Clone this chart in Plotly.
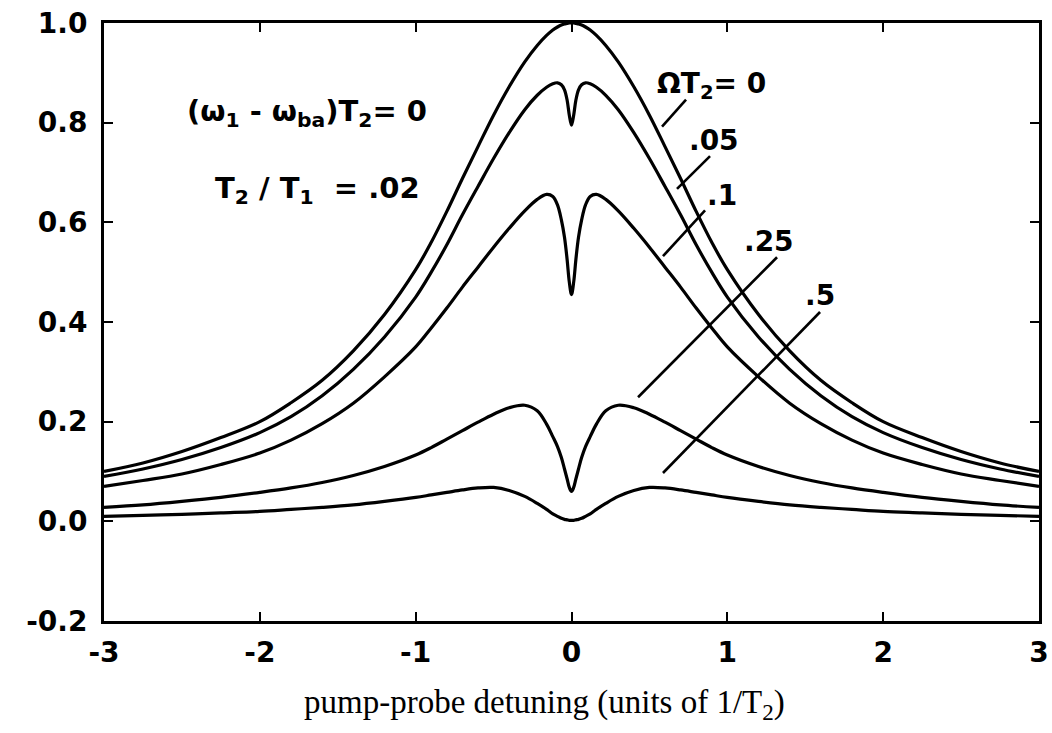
import plotly.graph_objects as go

# pump-probe detuning (units of 1/T2)
x = [-3, -2.75, -2.5, -2.25, -2, -1.8, -1.6, -1.4, -1.2, -1.0, -0.9, -0.8, -0.7, -0.6, -0.5, -0.4, -0.3,
     -0.22, -0.16, -0.12, -0.09, -0.065, -0.045, -0.028, -0.014, 0,
     0.014, 0.028, 0.045, 0.065, 0.09, 0.12, 0.16, 0.22,
     0.3, 0.4, 0.5, 0.6, 0.7, 0.8, 0.9, 1.0, 1.2, 1.4, 1.6, 1.8, 2, 2.25, 2.5, 2.75, 3]

omega_0 = [0.10, 0.117, 0.14, 0.168, 0.20, 0.238, 0.283, 0.342, 0.415, 0.505, 0.56, 0.622, 0.688, 0.752, 0.815, 0.872, 0.922,
           0.955, 0.975, 0.986, 0.992, 0.996, 0.998, 0.999, 1.0, 1.0,
           1.0, 0.999, 0.998, 0.996, 0.992, 0.986, 0.975, 0.955,
           0.922, 0.872, 0.815, 0.752, 0.688, 0.622, 0.56, 0.505, 0.415, 0.342, 0.283, 0.238, 0.20, 0.168, 0.14, 0.117, 0.10]

omega_005 = [0.09, 0.105, 0.124, 0.148, 0.178, 0.21, 0.252, 0.305, 0.37, 0.45, 0.5, 0.555, 0.615, 0.672, 0.728, 0.78, 0.826,
             0.855, 0.871, 0.878, 0.88, 0.876, 0.866, 0.845, 0.815, 0.795,
             0.815, 0.845, 0.866, 0.876, 0.88, 0.878, 0.871, 0.855,
             0.826, 0.78, 0.728, 0.672, 0.615, 0.555, 0.5, 0.45, 0.37, 0.305, 0.252, 0.21, 0.178, 0.148, 0.124, 0.105, 0.09]

omega_01 = [0.07, 0.082, 0.095, 0.114, 0.137, 0.163, 0.196, 0.237, 0.29, 0.35, 0.388, 0.428, 0.47, 0.51, 0.55, 0.588, 0.623,
            0.646, 0.656, 0.652, 0.635, 0.605, 0.57, 0.525, 0.48, 0.455,
            0.48, 0.525, 0.57, 0.605, 0.635, 0.652, 0.656, 0.646,
            0.623, 0.588, 0.55, 0.51, 0.47, 0.428, 0.388, 0.35, 0.29, 0.237, 0.196, 0.163, 0.137, 0.114, 0.095, 0.082, 0.07]

omega_025 = [0.028, 0.033, 0.04, 0.048, 0.058, 0.067, 0.078, 0.092, 0.11, 0.133, 0.148, 0.165, 0.182, 0.199, 0.215, 0.228, 0.233,
             0.222, 0.195, 0.17, 0.15, 0.128, 0.105, 0.085, 0.068, 0.06,
             0.068, 0.085, 0.105, 0.128, 0.15, 0.17, 0.195, 0.222,
             0.233, 0.228, 0.215, 0.199, 0.182, 0.165, 0.148, 0.133, 0.11, 0.092, 0.078, 0.067, 0.058, 0.048, 0.04, 0.033, 0.028]

omega_05 = [0.01, 0.012, 0.014, 0.017, 0.02, 0.024, 0.028, 0.033, 0.04, 0.048, 0.053, 0.058, 0.063, 0.067, 0.068, 0.062, 0.05,
            0.036, 0.024, 0.015, 0.01, 0.006, 0.004, 0.003, 0.002, 0.002,
            0.002, 0.003, 0.004, 0.006, 0.01, 0.015, 0.024, 0.036,
            0.05, 0.062, 0.068, 0.067, 0.063, 0.058, 0.053, 0.048, 0.04, 0.033, 0.028, 0.024, 0.02, 0.017, 0.014, 0.012, 0.01]

series = [omega_0, omega_005, omega_01, omega_025, omega_05]

x_ticks = [-3, -2, -1, 0, 1, 2, 3]
x_tick_text = ["-3", "-2", "-1", "0", "1", "2", "3"]
y_ticks = [-0.2, 0.0, 0.2, 0.4, 0.6, 0.8, 1.0]
y_tick_text = ["-0.2", "0.0", "0.2", "0.4", "0.6", "0.8", "1.0"]

curve_labels = ["\u03a9T<sub>2</sub>= 0", ".05", ".1", ".25", ".5"]
label_pos = [(0.536, 0.875), (0.741, 0.765), (0.857, 0.654), (1.094, 0.562), (1.486, 0.454)]
leaders = [((0.735, 0.846), (0.581, 0.792)),
           ((0.889, 0.733), (0.677, 0.667)),
           ((0.857, 0.624), (0.587, 0.532)),
           ((1.319, 0.530), (0.427, 0.249)),
           ((1.595, 0.420), (0.587, 0.097))]

fig = go.Figure()
for ys in series:
    fig.add_trace(go.Scatter(x=x, y=ys, mode="lines",
                             line=dict(color="black", width=3.2, shape="spline", smoothing=1.0),
                             showlegend=False, hoverinfo="skip"))

for (x0, y0), (x1, y1) in leaders:
    fig.add_shape(type="line", x0=x0, y0=y0, x1=x1, y1=y1, xref="x", yref="y",
                  line=dict(color="black", width=2.6))

label_font = dict(family="DejaVu Sans", size=28, color="black", weight="bold")
for txt, (lx, ly) in zip(curve_labels, label_pos):
    fig.add_annotation(x=lx, y=ly, xref="x", yref="y", text=txt, showarrow=False,
                       xanchor="left", yanchor="middle", font=label_font)

fig.add_annotation(x=-2.481, y=0.819, xref="x", yref="y",
                   text="(\u03c9<sub>1</sub> - \u03c9<sub>ba</sub>)T<sub>2</sub>= 0",
                   showarrow=False, xanchor="left", yanchor="middle",
                   font=dict(family="DejaVu Sans", size=29, color="black", weight="bold"))
fig.add_annotation(x=-2.30, y=0.665, xref="x", yref="y",
                   text="T<sub>2</sub> / T<sub>1</sub>  = .02",
                   showarrow=False, xanchor="left", yanchor="middle",
                   font=dict(family="DejaVu Sans", size=29, color="black", weight="bold"))

fig.add_annotation(x=-0.176, y=-0.14, xref="x", yref="paper",
                   text="pump-probe detuning (units of 1/T<sub>2</sub>)",
                   showarrow=False, xanchor="center", yanchor="middle",
                   font=dict(family="Liberation Serif", size=33, color="black"))

axis_common = dict(showline=True, linecolor="black", linewidth=3, mirror="ticks",
                   ticks="inside", ticklen=9, tickwidth=2, tickcolor="black",
                   showgrid=False, zeroline=False, automargin=False,
                   tickfont=dict(family="DejaVu Sans", size=28, color="black", weight="bold"))

fig.update_xaxes(range=[-3, 3], tickvals=x_ticks, ticktext=x_tick_text,
                 ticklabelstandoff=4, **axis_common)
fig.update_yaxes(range=[-0.2, 1.0], tickvals=y_ticks, ticktext=y_tick_text,
                 ticklabelstandoff=8, **axis_common)

fig.update_layout(width=1052, height=733,
                  margin=dict(l=104, r=13, t=23, b=112, autoexpand=False),
                  paper_bgcolor="white", plot_bgcolor="white")

fig.write_html("out.html", config={"displayModeBar": False},
               post_script="document.body.style.margin='0';document.body.style.padding='0';document.body.style.overflow='hidden';")
